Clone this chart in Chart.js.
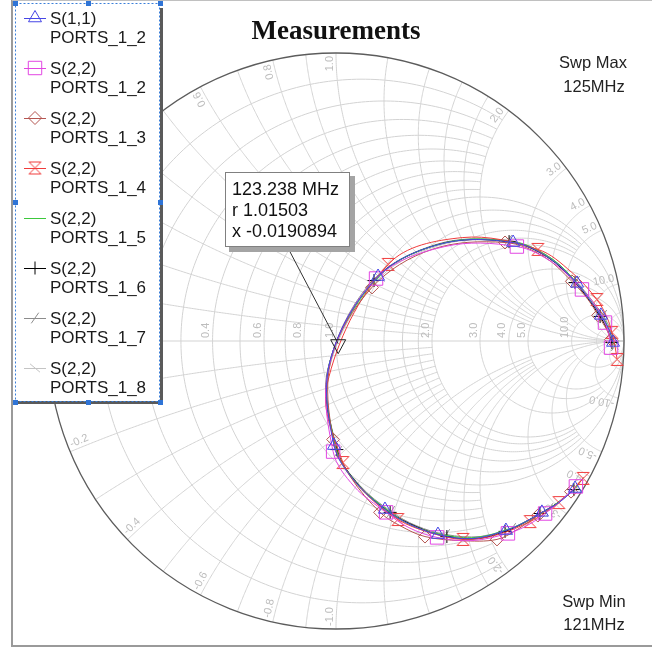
<!DOCTYPE html>
<html>
<head>
<meta charset="utf-8">
<script src="https://cdn.jsdelivr.net/npm/chart.js@4.4.0/dist/chart.umd.min.js"></script>
<style>
html,body{margin:0;padding:0;background:#fff;overflow:hidden}
canvas{display:block}
</style>
</head>
<body>
<canvas id="smith" width="652" height="648"></canvas>
<script>
// Sweep frequencies (MHz)
const freqMHz = [121.0,121.2,121.4,121.6,121.8,122.0,122.2,122.4,122.6,122.8,123.0,123.2,123.4,123.6,123.8,124.0,124.2,124.4,124.6,124.8,125.0];

// Reflection coefficients (real / imaginary) for each measurement
const s11_p12_re = [0.830,0.774,0.715,0.653,0.590,0.472,0.354,0.257,0.170,0.066,-0.007,-0.021,0.146,0.372,0.615,0.743,0.837,0.885,0.920,0.948,0.962];
const s11_p12_im = [-0.512,-0.561,-0.595,-0.630,-0.658,-0.686,-0.672,-0.637,-0.585,-0.488,-0.363,-0.071,0.224,0.339,0.342,0.286,0.200,0.137,0.089,0.040,-0.005];

const s22_p12_re = [0.833,0.781,0.726,0.663,0.597,0.472,0.351,0.253,0.174,0.063,-0.010,-0.024,0.139,0.378,0.628,0.757,0.854,0.903,0.934,0.948,0.955];
const s22_p12_im = [-0.505,-0.554,-0.599,-0.641,-0.668,-0.693,-0.682,-0.648,-0.595,-0.505,-0.384,-0.085,0.217,0.328,0.328,0.269,0.179,0.120,0.064,0.019,-0.023];

const s22_p13_re = [0.816,0.764,0.701,0.635,0.559,0.434,0.309,0.222,0.153,0.052,-0.010,-0.017,0.125,0.333,0.587,0.722,0.819,0.875,0.910,0.938,0.955];
const s22_p13_im = [-0.523,-0.568,-0.606,-0.651,-0.689,-0.693,-0.679,-0.641,-0.595,-0.474,-0.342,-0.064,0.186,0.318,0.342,0.293,0.207,0.144,0.089,0.043,0.005];

const s22_p14_re = [0.858,0.819,0.774,0.729,0.674,0.563,0.441,0.326,0.215,0.104,0.024,-0.031,0.181,0.438,0.701,0.819,0.906,0.941,0.958,0.969,0.976];
const s22_p14_im = [-0.477,-0.519,-0.561,-0.595,-0.627,-0.672,-0.689,-0.665,-0.620,-0.530,-0.422,-0.151,0.266,0.359,0.318,0.238,0.144,0.082,0.030,-0.019,-0.064];

const s22_p15_re = [0.840,0.785,0.729,0.667,0.604,0.486,0.368,0.264,0.181,0.073,0.000,-0.024,0.153,0.382,0.625,0.753,0.844,0.892,0.927,0.951,0.965];
const s22_p15_im = [-0.502,-0.550,-0.589,-0.623,-0.651,-0.682,-0.672,-0.641,-0.589,-0.495,-0.370,-0.082,0.227,0.342,0.342,0.283,0.193,0.130,0.082,0.033,-0.012];

const s22_p16_re = [0.826,0.771,0.708,0.646,0.587,0.493,0.385,0.278,0.188,0.080,0.003,-0.028,0.132,0.354,0.601,0.736,0.830,0.882,0.917,0.944,0.958];
const s22_p16_im = [-0.516,-0.561,-0.599,-0.634,-0.661,-0.686,-0.679,-0.644,-0.595,-0.502,-0.377,-0.099,0.210,0.335,0.345,0.290,0.203,0.137,0.085,0.036,-0.005];

const s22_p17_re = [0.847,0.795,0.740,0.677,0.611,0.500,0.382,0.278,0.191,0.083,0.007,-0.028,0.118,0.347,0.597,0.733,0.833,0.889,0.927,0.955,0.969];
const s22_p17_im = [-0.491,-0.540,-0.582,-0.620,-0.651,-0.679,-0.672,-0.641,-0.592,-0.502,-0.384,-0.106,0.200,0.335,0.349,0.297,0.207,0.141,0.089,0.036,-0.016];

const s22_p18_re = [0.837,0.778,0.719,0.656,0.597,0.479,0.361,0.260,0.174,0.069,-0.003,-0.021,0.153,0.385,0.622,0.750,0.840,0.889,0.924,0.951,0.965];
const s22_p18_im = [-0.509,-0.557,-0.595,-0.630,-0.658,-0.689,-0.675,-0.641,-0.589,-0.495,-0.370,-0.085,0.220,0.339,0.339,0.283,0.193,0.130,0.078,0.030,-0.016];

// Legend names (two lines each)
const traceNames = [
  ['S(1,1)','PORTS_1_2'], ['S(2,2)','PORTS_1_2'], ['S(2,2)','PORTS_1_3'], ['S(2,2)','PORTS_1_4'],
  ['S(2,2)','PORTS_1_5'], ['S(2,2)','PORTS_1_6'], ['S(2,2)','PORTS_1_7'], ['S(2,2)','PORTS_1_8']
];

// Smith chart grid: [normalised value, extent of the arc along the other coordinate]
const resistanceGrid = [[0.1,2],[0.2,2],[0.3,2],[0.4,2],[0.5,2],[0.6,2],[0.7,2],[0.8,2],[0.9,2],[1,Infinity],
  [1.2,5],[1.4,5],[1.6,5],[1.8,5],[2,Infinity],[3,10],[4,10],[5,Infinity],[10,Infinity],[20,50]];
const reactanceGrid = [[0.1,2],[0.2,2],[0.3,2],[0.4,2],[0.5,2],[0.6,2],[0.7,2],[0.8,2],[0.9,2],[1,Infinity],
  [1.2,5],[1.4,5],[1.6,5],[1.8,5],[2,Infinity],[3,10],[4,10],[5,Infinity],[10,Infinity],[20,50]];
const resistanceLabels = [0.2,0.4,0.6,0.8,1.0,2.0,3.0,4.0,5.0,10.0];
const reactanceLabels = [0.2,0.4,0.6,0.8,1.0,2.0,3.0,4.0,5.0,10.0];

// Marker readout
const markerFreqText = '123.238 MHz';
const markerR = 1.01503;
const markerX = -0.0190894;
const sweepMinText = '121MHz';
const sweepMaxText = '125MHz';

const SANS = "'Liberation Sans', Arial, sans-serif";

function zToGamma(r, x) {
  const d = (r + 1) * (r + 1) + x * x;
  return [(r * r - 1 + x * x) / d, 2 * x / d];
}

function hourglass(color) {
  const c = document.createElement('canvas');
  c.width = 15; c.height = 15;
  const g = c.getContext('2d');
  g.strokeStyle = color; g.lineWidth = 1;
  g.beginPath();
  g.moveTo(1.5, 1.5); g.lineTo(13.5, 1.5); g.lineTo(1.5, 13.5); g.lineTo(13.5, 13.5); g.closePath();
  g.stroke();
  return c;
}

const traceStyles = [
  {color:'#4646e6', style:'triangle', radius:7.5, rot:0},
  {color:'#e246e2', style:'rect', radius:9.5, rot:0},
  {color:'#b45550', style:'rectRot', radius:6.5, rot:0},
  {color:'#f03c3c', style:hourglass('#f03c3c'), radius:7, rot:0},
  {color:'#3cc83c', style:'circle', radius:0, rot:0},
  {color:'#000000', style:'cross', radius:6.5, rot:0},
  {color:'#8c8c8c', style:'line', radius:6.5, rot:-55},
  {color:'#c4c4c4', style:'line', radius:6.5, rot:40}
];

const traceData = [
  [s11_p12_re, s11_p12_im], [s22_p12_re, s22_p12_im], [s22_p13_re, s22_p13_im], [s22_p14_re, s22_p14_im],
  [s22_p15_re, s22_p15_im], [s22_p16_re, s22_p16_im], [s22_p17_re, s22_p17_im], [s22_p18_re, s22_p18_im]
];

const datasets = traceData.map(([re, im], k) => {
  const st = traceStyles[k];
  return {
    label: traceNames[k].join(' '),
    data: freqMHz.map((f, i) => ({x: re[i], y: im[i]})),
    showLine: true,
    borderColor: st.color,
    borderWidth: 1,
    tension: 0.35,
    pointStyle: st.style,
    pointRotation: st.rot,
    pointRadius: c => (c.dataIndex % 2 === 0 ? st.radius : 0),
    pointBorderColor: st.color,
    pointBackgroundColor: 'rgba(0,0,0,0)',
    pointBorderWidth: 1
  };
});

function pix(chart, g) {
  return [chart.scales.x.getPixelForValue(g[0]), chart.scales.y.getPixelForValue(g[1])];
}

const smithGrid = {
  id: 'smithGrid',
  beforeDatasetsDraw(chart) {
    const ctx = chart.ctx;
    const [cx, cy] = pix(chart, [0, 0]);
    const R = chart.scales.x.getPixelForValue(1) - cx;
    const N = 240;
    ctx.save();
    ctx.strokeStyle = '#d3d3d3';
    ctx.lineWidth = 1;
    // real axis
    ctx.beginPath();
    const a = pix(chart, [-1, 0]), b = pix(chart, [1, 0]);
    ctx.moveTo(a[0], a[1]); ctx.lineTo(b[0], b[1]); ctx.stroke();
    // constant resistance circles
    for (const [r, xmax] of resistanceGrid) {
      const k = r + 1;
      const uMax = xmax === Infinity ? Math.PI / 2 - 1e-5 : Math.atan(xmax / k);
      ctx.beginPath();
      for (let i = 0; i <= N; i++) {
        const u = -uMax + 2 * uMax * i / N;
        const p = pix(chart, zToGamma(r, k * Math.tan(u)));
        if (i) ctx.lineTo(p[0], p[1]); else ctx.moveTo(p[0], p[1]);
      }
      ctx.stroke();
    }
    // constant reactance arcs
    for (const [x0, rmax] of reactanceGrid) {
      for (const x of [x0, -x0]) {
        const w0 = Math.atan(1 / x0);
        const w1 = rmax === Infinity ? Math.PI / 2 - 1e-5 : Math.atan((rmax + 1) / x0);
        ctx.beginPath();
        for (let i = 0; i <= N; i++) {
          const w = w0 + (w1 - w0) * i / N;
          const r = x0 * Math.tan(w) - 1;
          const p = pix(chart, zToGamma(Math.max(r, 0), x));
          if (i) ctx.lineTo(p[0], p[1]); else ctx.moveTo(p[0], p[1]);
        }
        ctx.stroke();
      }
    }
    // outer boundary
    ctx.beginPath();
    ctx.strokeStyle = '#5c5c5c';
    ctx.lineWidth = 1.3;
    ctx.arc(cx, cy, R, 0, Math.PI * 2);
    ctx.stroke();

    // grid labels
    ctx.fillStyle = '#bdbdbd';
    ctx.font = '11px ' + SANS;
    for (const r of resistanceLabels) {
      const p = pix(chart, zToGamma(r, 0));
      ctx.save();
      ctx.translate(p[0] - 1, p[1] - 3);
      ctx.rotate(-Math.PI / 2);
      ctx.textAlign = 'left'; ctx.textBaseline = 'bottom';
      ctx.fillText(r.toFixed(1), 0, 0);
      ctx.restore();
    }
    for (const x of reactanceLabels) {
      // positive reactance, text reading outward
      let g = zToGamma(0, x);
      let th = Math.atan2(g[1], g[0]);
      let p = pix(chart, g);
      ctx.save();
      ctx.translate(p[0], p[1]);
      ctx.rotate(-th);
      ctx.textAlign = 'right'; ctx.textBaseline = 'bottom';
      ctx.fillText(x.toFixed(1), -3, -1);
      ctx.restore();
      // negative reactance, text reading inward
      g = zToGamma(0, -x);
      th = Math.atan2(g[1], g[0]);
      p = pix(chart, g);
      ctx.save();
      ctx.translate(p[0], p[1]);
      ctx.rotate(-(th + Math.PI));
      ctx.textAlign = 'left'; ctx.textBaseline = 'bottom';
      ctx.fillText('-' + x.toFixed(1), 3, -1);
      ctx.restore();
    }
    ctx.restore();
  }
};

function legendSymbol(ctx, st, x, y) {
  ctx.save();
  ctx.strokeStyle = st.color;
  ctx.lineWidth = 1;
  ctx.beginPath(); ctx.moveTo(x - 11, y + 0.5); ctx.lineTo(x + 11, y + 0.5); ctx.stroke();
  const r = st.radius;
  ctx.beginPath();
  if (typeof st.style === 'object') {
    ctx.drawImage(st.style, x - st.style.width / 2, y - st.style.height / 2);
  } else if (st.style === 'triangle') {
    ctx.moveTo(x, y - r); ctx.lineTo(x + r * 0.866, y + r * 0.5); ctx.lineTo(x - r * 0.866, y + r * 0.5); ctx.closePath(); ctx.stroke();
  } else if (st.style === 'rect') {
    const s = r * Math.SQRT1_2; ctx.rect(x - s, y - s, 2 * s, 2 * s); ctx.stroke();
  } else if (st.style === 'rectRot') {
    ctx.moveTo(x, y - r); ctx.lineTo(x + r, y); ctx.lineTo(x, y + r); ctx.lineTo(x - r, y); ctx.closePath(); ctx.stroke();
  } else if (st.style === 'cross') {
    ctx.moveTo(x, y - r); ctx.lineTo(x, y + r); ctx.stroke();
  } else if (st.style === 'line') {
    const t = st.rot * Math.PI / 180;
    ctx.moveTo(x - r * Math.cos(t), y - r * Math.sin(t)); ctx.lineTo(x + r * Math.cos(t), y + r * Math.sin(t)); ctx.stroke();
  }
  ctx.restore();
}

const overlay = {
  id: 'overlay',
  afterDraw(chart) {
    const ctx = chart.ctx;
    ctx.save();
    // frame
    ctx.strokeStyle = '#9a9a9a'; ctx.lineWidth = 2;
    ctx.beginPath(); ctx.moveTo(12, 0); ctx.lineTo(12, 646); ctx.lineTo(652, 646); ctx.stroke();
    ctx.strokeStyle = '#c0c0c0'; ctx.lineWidth = 1;
    ctx.beginPath(); ctx.moveTo(12, 0.5); ctx.lineTo(652, 0.5); ctx.stroke();

    // title
    ctx.fillStyle = '#111';
    ctx.font = "bold 27px 'Liberation Serif', 'Times New Roman', serif";
    ctx.textAlign = 'center'; ctx.textBaseline = 'alphabetic';
    ctx.fillText('Measurements', 336, 39);

    // sweep annotations
    ctx.fillStyle = '#222';
    ctx.font = '16.5px ' + SANS;
    ctx.fillText('Swp Max', 593, 68);
    ctx.fillText(sweepMaxText, 594, 92);
    ctx.fillText('Swp Min', 594, 607);
    ctx.fillText(sweepMinText, 594, 630);

    // marker on the S(1,1) trace
    const mp = pix(chart, zToGamma(markerR, markerX));
    ctx.strokeStyle = '#333'; ctx.lineWidth = 1;
    ctx.beginPath(); ctx.moveTo(288, 248); ctx.lineTo(mp[0], mp[1]); ctx.stroke();
    ctx.strokeStyle = '#222';
    ctx.beginPath();
    ctx.moveTo(mp[0] - 7.5, mp[1] - 4); ctx.lineTo(mp[0] + 7.5, mp[1] - 4); ctx.lineTo(mp[0], mp[1] + 10); ctx.closePath();
    ctx.stroke();

    // marker readout box
    ctx.fillStyle = '#a4a4a4';
    ctx.fillRect(229, 176, 126, 76);
    ctx.fillStyle = '#fff';
    ctx.fillRect(225, 172, 125, 75);
    ctx.strokeStyle = '#808080';
    ctx.strokeRect(225.5, 172.5, 124, 74);
    ctx.fillStyle = '#111';
    ctx.font = '18px ' + SANS;
    ctx.textAlign = 'left';
    ctx.fillText(markerFreqText, 232, 195);
    ctx.fillText('r ' + markerR.toFixed(5), 232, 216);
    ctx.fillText('x ' + markerX.toFixed(7), 232, 237);

    // legend box
    ctx.fillStyle = '#5a5a5a';
    ctx.fillRect(159, 8, 4, 397);
    ctx.fillRect(18, 400, 145, 4);
    ctx.fillStyle = '#fff';
    ctx.fillRect(14, 3, 146, 398);
    ctx.strokeStyle = '#3b7fd9'; ctx.lineWidth = 1;
    ctx.setLineDash([2, 2]);
    ctx.strokeRect(15.5, 3.5, 144, 398);
    ctx.setLineDash([]);
    ctx.fillStyle = '#2f74d6';
    for (const [hx, hy] of [[15,3],[88,3],[160,3],[15,202],[160,202],[15,402],[88,402],[160,402]]) {
      ctx.fillRect(hx - 2, hy - 2, 5, 5);
    }
    ctx.font = '17px ' + SANS;
    ctx.fillStyle = '#1a1a1a';
    traceNames.forEach((nm, i) => {
      const y0 = 50 * i;
      legendSymbol(ctx, traceStyles[i], 35, 18 + y0);
      ctx.fillStyle = '#1a1a1a';
      ctx.fillText(nm[0], 50, 24 + y0);
      ctx.fillText(nm[1], 50, 43 + y0);
    });
    ctx.restore();
  }
};

new Chart(document.getElementById('smith'), {
  type: 'scatter',
  data: { datasets },
  options: {
    responsive: false,
    devicePixelRatio: 1,
    animation: false,
    events: [],
    layout: { padding: { left: 48, right: 28, top: 53, bottom: 19 } },
    scales: {
      x: { type: 'linear', min: -1, max: 1, display: false },
      y: { type: 'linear', min: -1, max: 1, display: false }
    },
    plugins: { legend: { display: false }, tooltip: { enabled: false }, title: { display: false } }
  },
  plugins: [smithGrid, overlay]
});
</script>
</body>
</html>
